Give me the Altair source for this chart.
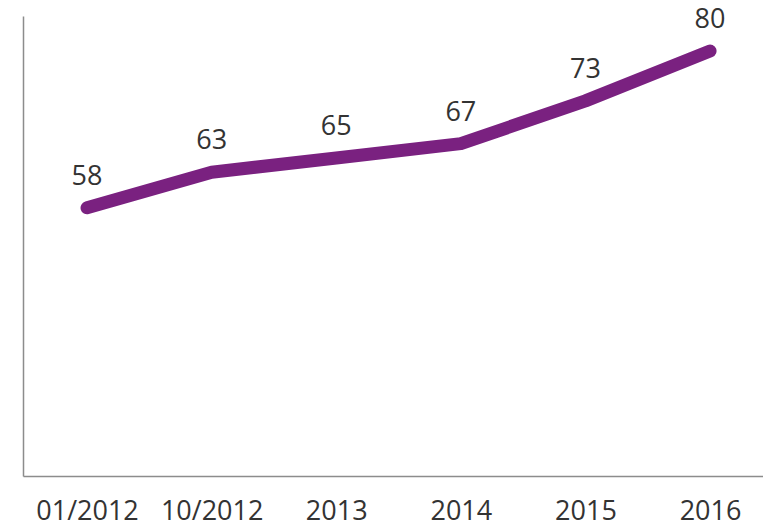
import json
import altair as alt
import pandas as pd

periods = ["01/2012", "10/2012", "2013", "2014", "2015", "2016"]
values = [58, 63, 65, 67, 73, 80]

df = pd.DataFrame({"idx": list(range(len(periods))), "period": periods, "value": values})

FONT = "Open Sans"
x = alt.X("idx:Q", title=None,
          scale=alt.Scale(domain=[-0.514, 5.425], nice=False, zero=False),
          axis=alt.Axis(values=list(range(len(periods))),
                        labelExpr=f"{json.dumps(periods)}[datum.value]",
                        labelAngle=0, ticks=False, grid=False, domainColor="#8c8c8c",
                        domainWidth=1.5, labelFont=FONT, labelFontSize=27,
                        labelColor="#333333", labelPadding=22, labelFlush=False,
                        labelOverlap=False))
y = alt.Y("value:Q", title=None, scale=alt.Scale(domain=[20.4, 84.9], nice=False, zero=False),
          axis=alt.Axis(labels=False, ticks=False, grid=False, domainColor="#8c8c8c",
                        domainWidth=1.5))

line = alt.Chart(df).mark_line(color="#7A2180", strokeWidth=13, strokeCap="round",
                               strokeJoin="round").encode(x=x, y=y)
text = alt.Chart(df).mark_text(font=FONT, fontSize=27, color="#333333",
                               baseline="alphabetic", dy=-23).encode(x=x, y=y, text="value:Q")

chart = (line + text).properties(
    width=740, height=460,
    autosize=alt.AutoSizeParams(type="none"),
    padding={"left": 15, "top": 8, "right": 0, "bottom": 46},
).configure_view(stroke=None)

chart.save("out.html", embed_options={"renderer": "svg", "actions": False})
